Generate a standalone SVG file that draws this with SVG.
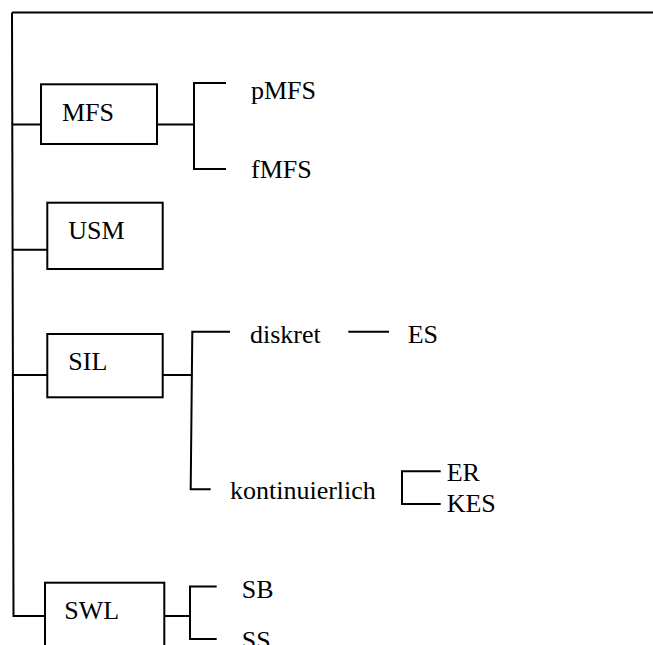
<svg xmlns="http://www.w3.org/2000/svg" width="653" height="645" viewBox="0 0 653 645">
<style>
.l{fill:none;stroke:#000;stroke-width:2}
.b{fill:#fff;stroke:#000;stroke-width:2}
</style>
<rect width="653" height="645" fill="#fff"/>
<g id="connectors">
<path class="l" d="M12,12.5 H653"/>
<path class="l" d="M12,12.5 L13.5,616 H45"/>
<path class="l" d="M12,124.5 H41"/>
<path class="l" d="M157,124.5 H194"/>
<path class="l" d="M226,83 H194 V169 H226"/>
<path class="l" d="M12,249.7 H47"/>
<path class="l" d="M12,375 H47"/>
<path class="l" d="M163,375 H192.5"/>
<path class="l" d="M230,331.7 H192.3 L190.7,489.3 H210.7"/>
<path class="l" d="M348.3,331.7 H389"/>
<path class="l" d="M440.7,471.3 H402 V504 H440.7"/>
<path class="l" d="M164.3,616 H190"/>
<path class="l" d="M216.7,586.5 H190 V639 H216.7"/>
</g>
<g font-family="Liberation Serif, DejaVu Serif, serif" font-size="26" fill="#000">
<g id="MFS"><rect class="b" x="41" y="84.3" width="116" height="59.7"/><text x="62" y="121">MFS</text></g>
<g id="pMFS"><text x="251" y="99.3">pMFS</text></g>
<g id="fMFS"><text x="251" y="177.7">fMFS</text></g>
<g id="USM"><rect class="b" x="47.3" y="202.7" width="115.4" height="66.3"/><text x="68.3" y="239">USM</text></g>
<g id="SIL"><rect class="b" x="47.3" y="334" width="115.4" height="63.3"/><text x="68.3" y="370.3">SIL</text></g>
<g id="diskret"><text x="250" y="342.7">diskret</text></g>
<g id="ES"><text x="407.7" y="342.7">ES</text></g>
<g id="kontinuierlich"><text x="230" y="499">kontinuierlich</text></g>
<g id="ER"><text x="446.7" y="481.3">ER</text></g>
<g id="KES"><text x="446.7" y="511.7">KES</text></g>
<g id="SWL"><rect class="b" x="45" y="582.7" width="119.3" height="80"/><text x="64.3" y="619">SWL</text></g>
<g id="SB"><text x="241.7" y="598.3">SB</text></g>
<g id="SS"><text x="241.7" y="649">SS</text></g>
</g>
</svg>
